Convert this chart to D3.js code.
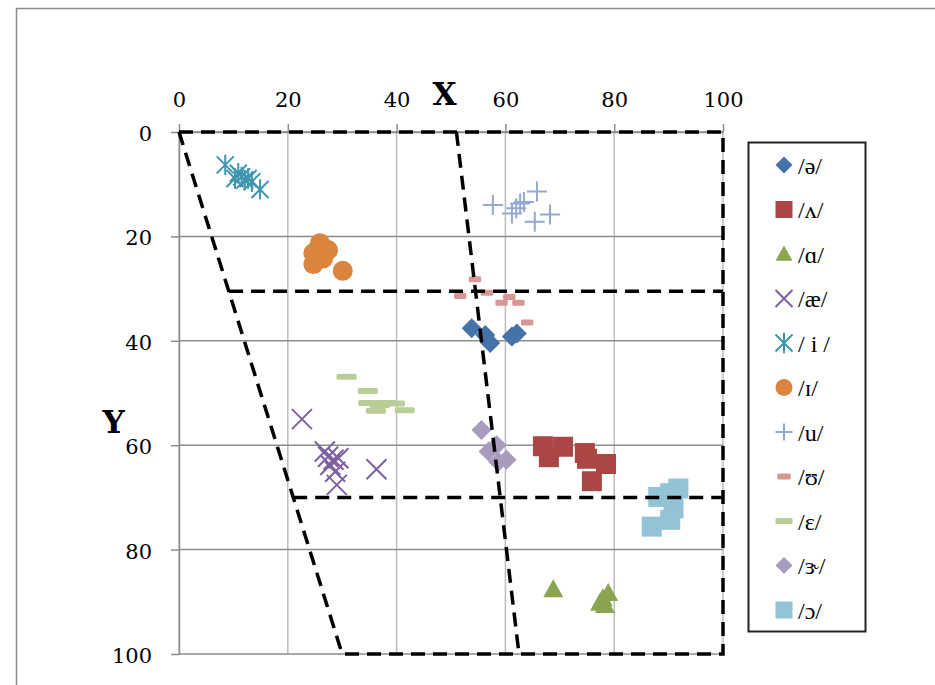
<!DOCTYPE html>
<html>
<head>
<meta charset="utf-8">
<script src="https://cdn.jsdelivr.net/npm/d3@7"></script>
<style>
  html, body { margin: 0; padding: 0; background: #fff; }
  svg { display: block; }
</style>
</head>
<body>
<svg id="chart" width="935" height="685"></svg>
<script>
// Vowel formant positions (X = front/back, Y = height), one array per vowel
const schwa   = [[53.8,37.6],[56.3,38.9],[57.2,40.4],[61.2,39.2],[62.1,38.6]];
const wedge   = [[66.9,60.2],[70.6,60.3],[68.0,62.3],[74.6,61.5],[75.0,62.6],[78.5,63.6],[75.9,66.9]];
const openA   = [[68.8,87.6],[77.9,89.3],[78.9,88.3],[77.4,90.2],[78.3,90.6]];
const ash     = [[22.6,55.0],[26.8,61.2],[27.4,62.2],[28.4,62.8],[29.3,62.5],[27.8,63.8],[28.7,65.1],[29.0,67.6],[36.3,64.6]];
const highI   = [[8.5,6.3],[10.9,7.9],[11.5,8.6],[10.3,8.9],[12.1,9.2],[12.7,8.9],[13.4,9.5],[14.9,11.0]];
const laxI    = [[25.9,21.3],[27.4,22.6],[24.7,23.2],[26.5,24.2],[24.7,25.3],[30.1,26.6]];
const highU   = [[57.7,14.0],[61.2,15.6],[62.0,14.6],[62.7,13.7],[63.4,13.4],[65.8,11.4],[68.2,15.8],[65.4,17.2]];
const laxU    = [[54.4,28.2],[51.7,31.4],[56.6,30.8],[60.7,31.6],[59.3,32.7],[62.4,32.7],[64.0,36.5]];
const epsilon = [[30.8,46.9],[34.7,49.6],[34.8,51.9],[38.2,51.9],[39.7,52.0],[36.9,52.3],[36.2,53.4],[41.5,53.3]];
const rhotic  = [[55.6,57.1],[56.9,61.2],[58.4,60.0],[60.2,62.8],[58.7,63.2]];
const openO   = [[91.8,68.3],[90.3,69.2],[88.1,69.9],[90.9,72.1],[90.3,74.3],[86.9,75.6]];

// Legend labels in series order
const vowelLabels = ["/ə/", "/ʌ/", "/ɑ/", "/æ/", "/ i /", "/ɪ/", "/u/", "/ʊ/", "/ɛ/", "/ɝ/", "/ɔ/"];

// Vowel quadrilateral: outline corners and the inner guide lines
const outline  = [[0,0],[100,0],[100,100],[30,100],[0,0]];
const midLine  = [[51,0],[62.5,100]];
const upperRow = [[9.2,30.5],[100,30.5]];
const lowerRow = [[21,70],[100,70]];

const xTicks = [0, 20, 40, 60, 80, 100];
const yTicks = [0, 20, 40, 60, 80, 100];

const series = [
  { data: schwa,   marker: "diamond",  color: "#4572A7" },
  { data: wedge,   marker: "square",   color: "#AA4643" },
  { data: openA,   marker: "triangle", color: "#89A54E" },
  { data: ash,     marker: "x",        color: "#7D60A0" },
  { data: highI,   marker: "star",     color: "#3D96AE" },
  { data: laxI,    marker: "circle",   color: "#DB843D" },
  { data: highU,   marker: "plus",     color: "#93A9CF" },
  { data: laxU,    marker: "shortbar", color: "#D99694" },
  { data: epsilon, marker: "longbar",  color: "#B9CD96" },
  { data: rhotic,  marker: "diamond",  color: "#A99BBD" },
  { data: openO,   marker: "square",   color: "#92C3D6" }
];

const svg = d3.select("#chart");

// Outer chart frame
svg.append("rect")
  .attr("x", 16.5).attr("y", 8.5).attr("width", 1000).attr("height", 1000)
  .attr("fill", "none").attr("stroke", "#8c8c8c").attr("stroke-width", 1.5);

const x = d3.scaleLinear().domain([0, 100]).range([179, 723]);
const y = d3.scaleLinear().domain([0, 100]).range([132, 654]);

// Gridlines
const grid = svg.append("g");
grid.selectAll("line.v").data(xTicks).join("line")
  .attr("x1", d => x(d)).attr("x2", d => x(d))
  .attr("y1", y(0)).attr("y2", y(100))
  .attr("stroke", "#bdbdbd").attr("stroke-width", 1.5);
grid.selectAll("line.h").data(yTicks).join("line")
  .attr("x1", x(0)).attr("x2", x(100))
  .attr("y1", d => y(d)).attr("y2", d => y(d))
  .attr("stroke", "#8c8c8c").attr("stroke-width", 1.5);

// Axes
const fontTicks = "'DejaVu Serif', 'Liberation Serif', serif";
const xAxis = svg.append("g").attr("transform", `translate(0,${y(0)})`)
  .call(d3.axisTop(x).tickValues(xTicks).tickSize(8).tickPadding(17).tickSizeOuter(0));
const yAxis = svg.append("g").attr("transform", `translate(${x(0)},0)`)
  .call(d3.axisLeft(y).tickValues(yTicks).tickSize(8).tickPadding(19).tickSizeOuter(0));
[xAxis, yAxis].forEach(g => {
  g.select(".domain").attr("stroke", "#8c8c8c").attr("stroke-width", 1.5);
  g.selectAll(".tick line").attr("stroke", "#8c8c8c").attr("stroke-width", 1.5);
  g.selectAll(".tick text").attr("fill", "#000")
    .style("font-family", fontTicks).style("font-size", "21px");
});
yAxis.selectAll(".tick text").attr("dy", "0.4em");

// Axis titles
svg.append("text").attr("x", 444.5).attr("y", 105).attr("text-anchor", "middle")
  .style("font-family", fontTicks).style("font-size", "31px").style("font-weight", "bold")
  .text("X");
svg.append("text").attr("x", 113.5).attr("y", 433).attr("text-anchor", "middle")
  .style("font-family", fontTicks).style("font-size", "31px").style("font-weight", "bold")
  .text("Y");

// Marker shapes, centered on the origin
function markerPath(type, s) {
  const h = s / 2;
  switch (type) {
    case "diamond":  return `M0,${-h}L${h},0L0,${h}L${-h},0Z`;
    case "square":   return `M${-h},${-h}H${h}V${h}H${-h}Z`;
    case "triangle": return `M0,${-h}L${h},${h * 0.8}L${-h},${h * 0.8}Z`;
    case "circle":   return `M${h},0A${h},${h} 0 1,1 ${-h},0A${h},${h} 0 1,1 ${h},0Z`;
    case "x":        return `M${-h},${-h}L${h},${h}M${h},${-h}L${-h},${h}`;
    case "star":     return `M${-h},${-h}L${h},${h}M${h},${-h}L${-h},${h}M0,${-h * 1.2}V${h * 1.2}`;
    case "plus":     return `M${-h},0H${h}M0,${-h}V${h}`;
  }
  return "";
}
const stroked = new Set(["x", "star", "plus"]);

function drawMarker(sel, type, color, size) {
  if (type === "shortbar" || type === "longbar") {
    const w = type === "shortbar" ? size * 0.62 : size;
    sel.append("rect").attr("x", -w / 2).attr("y", -3).attr("width", w).attr("height", 6)
      .attr("rx", 1.5).attr("fill", color);
  } else if (stroked.has(type)) {
    sel.append("path").attr("d", markerPath(type, size))
      .attr("fill", "none").attr("stroke", color).attr("stroke-width", 2);
  } else {
    sel.append("path").attr("d", markerPath(type, size)).attr("fill", color);
  }
}

// Data points
const points = svg.append("g");
series.forEach(s => {
  const g = points.append("g");
  s.data.forEach(([vx, vy]) => {
    const m = g.append("g").attr("transform", `translate(${x(vx)},${y(vy)})`);
    drawMarker(m, s.marker, s.color, s.marker === "star" ? 17 : 20);
  });
});

// Vowel quadrilateral (dashed), drawn over the points
const lineGen = d3.line().x(d => x(d[0])).y(d => y(d[1]));
const quad = svg.append("g").attr("fill", "none").attr("stroke", "#000")
  .attr("stroke-width", 3.5).attr("stroke-dasharray", "14,8");
[outline, midLine, upperRow, lowerRow].forEach(pts => {
  quad.append("path").attr("d", lineGen(pts));
});

// Legend
const legend = svg.append("g");
legend.append("rect").attr("x", 748.5).attr("y", 142.5).attr("width", 117).attr("height", 489)
  .attr("fill", "#fff").attr("stroke", "#222").attr("stroke-width", 2);
series.forEach((s, i) => {
  const cy = 165 + i * 44.5;
  const m = legend.append("g").attr("transform", `translate(784,${cy})`);
  drawMarker(m, s.marker, s.color, s.marker === "shortbar" ? 22 : 17);
  legend.append("text").attr("x", 798).attr("y", cy).attr("dy", "0.36em")
    .style("font-family", "'Liberation Serif', 'DejaVu Serif', serif").style("font-size", "24px")
    .text(vowelLabels[i]);
});
</script>
</body>
</html>
